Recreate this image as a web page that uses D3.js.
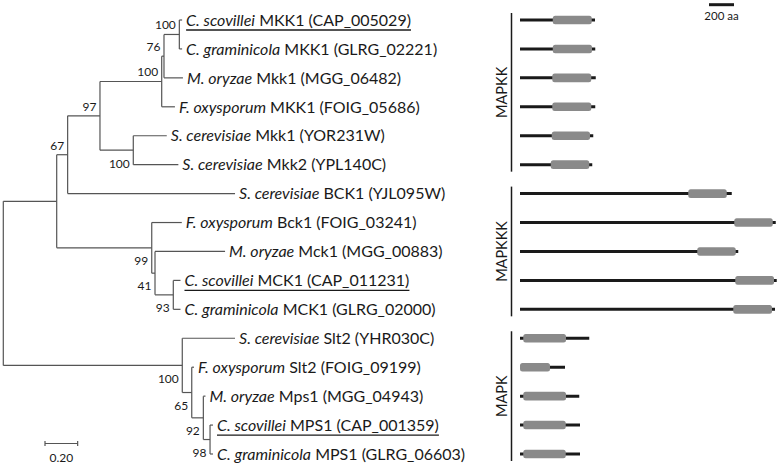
<!DOCTYPE html>
<html><head><meta charset="utf-8">
<script src="https://cdn.jsdelivr.net/npm/d3@7"></script>
<style>
body{margin:0;background:#fff}
svg{display:block}
text{font-family:Lato,"Open Sans",sans-serif;fill:#1a1a1a}
</style>
</head><body>
<svg id="chart" width="780" height="474"></svg>
<script>
// ---------- leaf data (display order, top to bottom) ----------
const leafIds = ["L1","L2","L3","L4","L5","L6","L7","L8","L9","L10","L11","L12","L13","L14","L15","L16"];
const species = ["C. scovillei","C. graminicola","M. oryzae","F. oxysporum","S. cerevisiae","S. cerevisiae",
  "S. cerevisiae","F. oxysporum","M. oryzae","C. scovillei","C. graminicola",
  "S. cerevisiae","F. oxysporum","M. oryzae","C. scovillei","C. graminicola"];
const proteins = ["MKK1 (CAP_005029)","MKK1 (GLRG_02221)","Mkk1 (MGG_06482)","MKK1 (FOIG_05686)","Mkk1 (YOR231W)","Mkk2 (YPL140C)",
  "BCK1 (YJL095W)","Bck1 (FOIG_03241)","Mck1 (MGG_00883)","MCK1 (CAP_011231)","MCK1 (GLRG_02000)",
  "Slt2 (YHR030C)","Slt2 (FOIG_09199)","Mps1 (MGG_04943)","MPS1 (CAP_001359)","MPS1 (GLRG_06603)"];
const underlined = [true,false,false,false,false,false,false,false,false,true,false,false,false,false,true,false];

// ---------- tree (preorder; children listed top to bottom) ----------
const treeIds     = ["root","A","B","C","D","E","F","L1","L2","L3","L4","Ep","L5","L6","L7","G","L8","H","L9","I","L10","L11","J","L12","K","L13","Lm","L14","M","L15","L16"];
const treeParents = [null,"root","A","B","C","D","E","F","F","E","D","C","Ep","Ep","B","A","G","G","H","H","I","I","root","J","J","K","K","Lm","Lm","M","M"];
const branchLen   = [0,0.327,0.067,0.198,0.378,0.014,0.094,0.017,0.017,0.116,0.081,0.204,0.205,0.276,1.025,0.582,0.184,0.020,0.429,0.112,0.044,0.044,1.096,0.323,0.058,0.014,0.071,0.013,0.041,0.018,0.018];
const bootstrapNodes = ["B","C","D","E","F","Ep","G","H","I","J","K","Lm","M"];
const bootstrapVals  = [67,97,100,76,100,100,99,41,93,100,65,92,98];
const bootstrapSide  = ["above","above","above","above","above","below","below","below","below","below","below","below","below"];
const treeScaleBar = 0.20;

// ---------- domain architecture (aa) ----------
const proteinLen  = [600,602,606,602,586,578,1694,2046,1746,2054,2040,554,360,474,480,480];
const kinaseStart = [262,262,258,258,254,246,1346,1714,1418,1722,1706,26,0,26,26,26];
const kinaseEnd   = [574,576,570,570,560,554,1654,2022,1726,2032,2016,368,240,368,366,366];
const aaScaleBar = 200;

// ---------- groups ----------
const groupNames = ["MAPKK","MAPKKK","MAPK"];
const groupFirst = [0,6,11];
const groupLast  = [5,10,15];

const svg = d3.select("#chart");
const treeColor = "#555";

// scales
const yRow = d3.scaleLinear().domain([0,15]).range([20,454]);
const xTree = d3.scaleLinear().domain([0,1]).range([3.3,166.6]);
const xAa = d3.scaleLinear().domain([0,2000]).range([520,770]);

// build hierarchy
const rows = treeIds.map((id,i)=>({id, parent:treeParents[i], len:branchLen[i]}));
const root = d3.stratify().id(d=>d.id).parentId(d=>d.parent)(rows);
root.eachBefore(n=>{ n.dist = n.parent ? n.parent.dist + n.data.len : 0; });
root.eachAfter(n=>{
  if(!n.children){ n.yy = yRow(leafIds.indexOf(n.id)); }
  else { n.yy = (n.children[0].yy + n.children[n.children.length-1].yy)/2; }
});

const gTree = svg.append("g");
root.descendants().filter(n=>n.parent).forEach(n=>{
  gTree.append("line").attr("x1",xTree(n.parent.dist)).attr("x2",xTree(n.dist))
    .attr("y1",n.yy).attr("y2",n.yy).attr("stroke",treeColor).attr("stroke-width",1.2);
});
root.descendants().filter(n=>n.children).forEach(n=>{
  const c = n.children;
  gTree.append("line").attr("x1",xTree(n.dist)).attr("x2",xTree(n.dist))
    .attr("y1",c[0].yy).attr("y2",c[c.length-1].yy).attr("stroke",treeColor).attr("stroke-width",1.2);
});
bootstrapNodes.forEach((id,i)=>{
  const n = root.find(d=>d.id===id);
  gTree.append("text").attr("x",xTree(n.dist)-3.5)
    .attr("y", bootstrapSide[i]==="above" ? n.yy-9.5 : n.yy+13).attr("dy","0.36em")
    .attr("text-anchor","end").attr("font-size",12).text(bootstrapVals[i]);
});
root.leaves().forEach(n=>{
  const i = leafIds.indexOf(n.id);
  const x0 = xTree(n.dist)+4;
  const t = gTree.append("text").attr("x",x0).attr("y",n.yy).attr("dy","0.36em").attr("font-size",16);
  t.append("tspan").attr("font-style","italic").text(species[i]);
  t.append("tspan").text(" " + proteins[i]);
  if(underlined[i]){
    const w = t.node().getComputedTextLength();
    gTree.append("line").attr("x1",x0).attr("x2",x0+w).attr("y1",n.yy+10).attr("y2",n.yy+10)
      .attr("stroke","#1a1a1a").attr("stroke-width",1.3);
  }
});
// tree scale bar
const sbX = 45, sbY = 443.5;
svg.append("line").attr("x1",sbX).attr("x2",sbX + xTree(treeScaleBar)-xTree(0)).attr("y1",sbY).attr("y2",sbY)
  .attr("stroke",treeColor).attr("stroke-width",1.2);
[0,treeScaleBar].forEach(v=>{
  const x = sbX + xTree(v)-xTree(0);
  svg.append("line").attr("x1",x).attr("x2",x).attr("y1",sbY-2.5).attr("y2",sbY+2.5).attr("stroke",treeColor).attr("stroke-width",1.2);
});
svg.append("text").attr("x",sbX + (xTree(treeScaleBar)-xTree(0))/2).attr("y",458).attr("dy","0.36em")
  .attr("text-anchor","middle").attr("font-size",12).text(treeScaleBar.toFixed(2));

// domain diagrams
const gDom = svg.append("g");
proteinLen.forEach((L,i)=>{
  const y = yRow(i);
  gDom.append("line").attr("x1",xAa(0)).attr("x2",xAa(L)).attr("y1",y).attr("y2",y)
    .attr("stroke","#1a1a1a").attr("stroke-width",3);
  gDom.append("rect").attr("x",xAa(kinaseStart[i])).attr("y",y-4.3)
    .attr("width",xAa(kinaseEnd[i])-xAa(kinaseStart[i])).attr("height",8.6)
    .attr("rx",2.5).attr("fill","#8a8a8a");
});
const aaX = 709;
svg.append("line").attr("x1",aaX).attr("x2",aaX + xAa(aaScaleBar)-xAa(0)).attr("y1",4.7).attr("y2",4.7)
  .attr("stroke","#1a1a1a").attr("stroke-width",3);
svg.append("text").attr("x",aaX + (xAa(aaScaleBar)-xAa(0))/2).attr("y",16).attr("dy","0.36em")
  .attr("text-anchor","middle").attr("font-size",11.5).text(aaScaleBar + " aa");

groupNames.forEach((g,i)=>{
  const y0 = yRow(groupFirst[i])-7, y1 = yRow(groupLast[i])+7;
  svg.append("line").attr("x1",511.5).attr("x2",511.5).attr("y1",y0).attr("y2",y1)
    .attr("stroke","#1a1a1a").attr("stroke-width",1.5);
  svg.append("text").attr("transform",`translate(506.5,${(y0+y1)/2}) rotate(-90)`)
    .attr("text-anchor","middle").attr("font-size",14.5).text(g);
});
</script>
</body></html>
